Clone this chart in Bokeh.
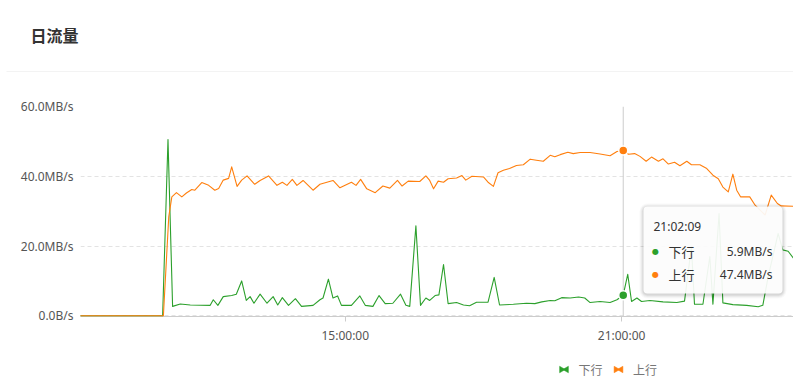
import math
import pandas as pd
from bokeh.plotting import figure
from bokeh.layouts import column
from bokeh.models import (FixedTicker, DatetimeTickFormatter, Label, BoxAnnotation, Span,
                          ColumnDataSource)
from bokeh.embed import file_html
from bokeh.resources import INLINE

# ---------------- data ----------------
title_text = "日流量"
series_names = ["下行", "上行"]
series_colors = ["#2ca02c", "#ff7f0e"]

down_times = ["09:15", "11:02", "11:09", "11:15", "11:25", "11:38", "12:04", "12:08", "12:14",
              "12:21", "12:32", "12:38", "12:45", "12:51", "12:56", "13:01", "13:09", "13:18",
              "13:26", "13:32", "13:38", "13:46", "13:55", "14:03", "14:18", "14:27", "14:31",
              "14:38", "14:44", "14:50", "14:55", "15:08", "15:19", "15:26", "15:36", "15:44",
              "15:52", "16:02", "16:12", "16:19", "16:24", "16:32", "16:38", "16:45", "16:50",
              "16:57", "17:02", "17:08", "17:14", "17:25", "17:34", "17:42", "17:51", "18:06",
              "18:14", "18:21", "18:39", "18:56", "19:07", "19:16", "19:27", "19:33", "19:42",
              "19:53", "20:04", "20:12", "20:19", "20:32", "20:45", "20:54", "21:02:09", "21:08",
              "21:13", "21:20", "21:26", "21:37", "21:54", "22:12", "22:22", "22:31", "22:35",
              "22:46", "22:55", "22:59", "23:07", "23:12", "23:25", "23:43", "23:58", "00:04",
              "00:11", "00:24", "00:30", "00:37", "00:44"]
down_values = [0, 0, 50.5, 2.7, 3.4, 3.1, 3.0, 4.6, 3.0,
               5.5, 5.8, 6.2, 10.0, 4.4, 5.5, 3.6, 6.2, 3.6,
               5.5, 3.1, 5.2, 3.0, 4.9, 2.7, 3.0, 4.6, 5.1,
               10.5, 5.1, 5.7, 3.0, 3.0, 5.7, 3.0, 2.7, 5.8,
               3.5, 3.6, 6.2, 3.0, 2.7, 25.8, 3.0, 5.1, 4.4,
               5.8, 6.0, 14.7, 3.5, 3.8, 3.1, 2.9, 3.9, 3.9,
               11.0, 3.1, 3.3, 3.6, 3.5, 4.0, 4.4, 4.3, 5.2,
               5.1, 5.4, 5.1, 3.8, 4.1, 3.8, 4.6, 5.9, 11.9,
               4.1, 5.1, 4.1, 4.4, 4.0, 3.8, 4.2, 19.8, 3.3,
               3.3, 17.0, 3.3, 29.3, 3.7, 3.2, 3.0, 2.6, 3.0,
               11.2, 23.6, 18.9, 18.5, 16.5]

up_times = ["09:15", "11:03", "11:10", "11:14", "11:20", "11:27", "11:33", "11:40", "11:44",
            "11:53", "12:02", "12:10", "12:15", "12:21", "12:28", "12:32", "12:39", "12:45",
            "12:52", "13:02", "13:09", "13:20", "13:31", "13:38", "13:44", "13:51", "13:57",
            "14:05", "14:18", "14:27", "14:44", "14:53", "15:08", "15:14", "15:20", "15:28",
            "15:39", "15:49", "15:58", "16:08", "16:14", "16:22", "16:37", "16:45", "16:50",
            "16:55", "17:01", "17:08", "17:14", "17:25", "17:32", "17:37", "17:45", "18:00",
            "18:06", "18:13", "18:19", "18:26", "18:34", "18:43", "18:52", "19:01", "19:09",
            "19:18", "19:27", "19:33", "19:40", "19:50", "19:57", "20:06", "20:19", "20:32",
            "20:45", "20:54", "21:02:09", "21:09", "21:17", "21:24", "21:32", "21:39", "21:48",
            "21:54", "22:01", "22:09", "22:16", "22:25", "22:31", "22:42", "22:51", "22:59",
            "23:06", "23:12", "23:19", "23:25", "23:30", "23:35", "23:47", "23:54", "00:07",
            "00:15", "00:23", "00:28", "00:44"]
up_values = [0, 0, 28.4, 34.1, 35.3, 34.1, 35.2, 36.2, 36.0,
             38.2, 37.4, 36.0, 36.5, 38.9, 39.4, 42.7, 37.1, 38.9,
             40.1, 37.7, 38.8, 40.1, 37.4, 38.3, 37.4, 39.1, 37.4,
             38.8, 36.0, 37.7, 38.8, 36.7, 38.3, 37.4, 39.1, 36.4,
             35.3, 37.2, 36.6, 38.8, 37.2, 38.6, 38.5, 40.1, 38.8,
             36.4, 38.6, 38.3, 39.3, 39.5, 40.2, 38.9, 40.0, 39.8,
             38.3, 37.1, 41.0, 41.7, 42.2, 43.1, 43.3, 44.9, 44.6,
             44.3, 46.0, 45.6, 46.2, 46.9, 46.5, 46.8, 46.8, 46.4,
             45.9, 47.1, 47.4, 46.3, 46.5, 45.7, 44.3, 45.5, 44.3,
             45.0, 43.5, 44.0, 43.0, 44.3, 43.3, 43.3, 42.2, 40.3,
             39.3, 36.9, 35.5, 40.6, 36.0, 34.1, 34.1, 31.7, 28.9,
             34.6, 32.2, 31.5, 31.4]

y_ticks = [0, 20, 40, 60]
y_tick_labels = ["0.0B/s", "20.0MB/s", "40.0MB/s", "60.0MB/s"]
x_tick_times = ["15:00", "21:00"]
x_start, x_end = "09:15", "00:44"
hover_time = "21:02:09"

# ---------------- helpers ----------------
BASE = pd.Timestamp("2024-05-20")


def to_dt(s):
    parts = [int(q) for q in s.split(":")]
    h, m = parts[0], parts[1]
    sec = parts[2] if len(parts) > 2 else 0
    t = BASE + pd.Timedelta(hours=h, minutes=m, seconds=sec)
    if h < 6:
        t += pd.Timedelta(days=1)
    return t


def ms(s):
    return to_dt(s).value / 1e6


FONT = "Noto Sans"
CJK = "Noto Sans CJK SC"
W = 793

# ---------------- header (title + separator) ----------------
HEAD_H = 72
head = figure(width=W, height=HEAD_H, x_range=(0, W), y_range=(0, HEAD_H),
              output_backend="svg", toolbar_location=None, x_axis_location=None,
              y_axis_location=None, min_border=0, frame_align=False)
head.outline_line_color = None
head.grid.visible = False
head.add_layout(Label(x=30, y=HEAD_H - 34.5, text=title_text, text_font=CJK,
                      text_font_style="bold", text_font_size="16px", text_color="#333333",
                      text_baseline="middle"))
head.segment(x0=[6], y0=[HEAD_H - 71.5], x1=[W], y1=[HEAD_H - 71.5], line_color="#e6e6e6",
             line_width=1)

# ---------------- main chart ----------------
MAIN_TOP, MAIN_H = HEAD_H, 278
FRAME_LEFT, FRAME_TOP, FRAME_BOTTOM = 80, 106, 316


def sx(px):
    return px - FRAME_LEFT


def sy(py):
    return FRAME_BOTTOM - py


p = figure(width=W, height=MAIN_H, x_axis_type="datetime", output_backend="svg",
           toolbar_location=None, x_range=(to_dt(x_start), to_dt(x_end)), y_range=(-0.2, 60),
           min_border_left=FRAME_LEFT, min_border_right=0,
           min_border_top=FRAME_TOP - MAIN_TOP,
           min_border_bottom=MAIN_TOP + MAIN_H - FRAME_BOTTOM, frame_align=False)
p.outline_line_color = None
p.background_fill_color = "white"
p.border_fill_color = "white"

p.yaxis.ticker = FixedTicker(ticks=y_ticks)
p.yaxis.major_label_overrides = {t: l for t, l in zip(y_ticks, y_tick_labels)}
p.yaxis.axis_line_color = None
p.yaxis.major_tick_line_color = None
p.yaxis.minor_tick_line_color = None
p.yaxis.major_tick_out = 0
p.yaxis.major_tick_in = 0
p.yaxis.major_label_standoff = 7
p.yaxis.major_label_text_font = FONT
p.yaxis.major_label_text_font_size = "12px"
p.yaxis.major_label_text_color = "#555555"

p.xaxis.ticker = FixedTicker(ticks=[ms(t) for t in x_tick_times])
fmt = "%H:%M:%S"
p.xaxis.formatter = DatetimeTickFormatter(microseconds=fmt, milliseconds=fmt, seconds=fmt,
                                          minsec=fmt, minutes=fmt, hourmin=fmt, hours=fmt,
                                          days=fmt, months=fmt, years=fmt)
p.xaxis.axis_line_color = "#cccccc"
p.xaxis.major_tick_line_color = "#cccccc"
p.xaxis.minor_tick_line_color = None
p.xaxis.major_tick_in = 0
p.xaxis.major_tick_out = 5
p.xaxis.major_label_standoff = 5
p.xaxis.major_label_text_font = FONT
p.xaxis.major_label_text_font_size = "12px"
p.xaxis.major_label_text_color = "#555555"

p.xgrid.visible = False
p.ygrid.grid_line_color = "#e3e3e3"
p.ygrid.grid_line_dash = "4 3"

# crosshair
p.add_layout(Span(location=ms(hover_time), dimension="height", line_color="#cccccc",
                  line_width=1, level="underlay"))

# series lines (drawn above the axis line)
series = [(down_times, down_values), (up_times, up_values)]
for (times, vals), color in zip(series, series_colors):
    src = ColumnDataSource(dict(t=[to_dt(t) for t in times], v=vals))
    r = p.line("t", "v", source=src, line_color=color, line_width=1.1, line_join="round")
    r.level = "annotation"

# hover dots
hover_vals = [vals[times.index(hover_time)] for times, vals in series]
for v, color in zip(hover_vals, series_colors):
    r = p.scatter([to_dt(hover_time)], [v], size=9, fill_color=color, line_color="white",
                  line_width=1.5)
    r.level = "annotation"

# tooltip box
TL, TR, TT, TB = 643, 782, 206, 293
for g, a in [(4, 0.025), (3, 0.035), (2, 0.045), (1, 0.06)]:
    p.add_layout(BoxAnnotation(left=sx(TL - g), right=sx(TR + g), top=sy(TT - g + 1),
                               bottom=sy(TB + g + 1),
                               left_units="screen", right_units="screen", top_units="screen",
                               bottom_units="screen", fill_color="#000000", fill_alpha=a,
                               line_color=None, border_radius=4 + g))
p.add_layout(BoxAnnotation(left=sx(TL), right=sx(TR), top=sy(TT), bottom=sy(TB),
                           left_units="screen", right_units="screen", top_units="screen",
                           bottom_units="screen", fill_color="white", fill_alpha=0.92,
                           line_color=None, border_radius=4))
p.add_layout(Label(x=sx(653), y=sy(226), x_units="screen", y_units="screen", text=hover_time,
                   text_font=FONT, text_font_size="12px", text_color="#333333",
                   text_baseline="middle"))
for i, (name, v, color) in enumerate(zip(series_names, hover_vals, series_colors)):
    yy = 251 + 23 * i
    p.add_layout(Label(x=sx(655), y=sy(yy), x_units="screen", y_units="screen", text="●",
                       text_font="DejaVu Sans", text_font_size="8px", text_color=color,
                       text_baseline="middle", text_align="center"))
    p.add_layout(Label(x=sx(668), y=sy(yy), x_units="screen", y_units="screen", text=name,
                       text_font=CJK, text_font_size="13px", text_color="#333333",
                       text_baseline="middle"))
    p.add_layout(Label(x=sx(772), y=sy(yy), x_units="screen", y_units="screen",
                       text=f"{v:.1f}MB/s", text_font=FONT, text_font_size="12px",
                       text_color="#333333", text_baseline="middle", text_align="right"))

# ---------------- footer legend ----------------
FOOT_TOP = MAIN_TOP + MAIN_H
FOOT_H = 388 - FOOT_TOP
foot = figure(width=W, height=FOOT_H, x_range=(0, W), y_range=(0, FOOT_H),
              output_backend="svg", toolbar_location=None, x_axis_location=None,
              y_axis_location=None, min_border=0, frame_align=False)
foot.outline_line_color = None
foot.grid.visible = False
LEG_Y = FOOT_TOP + FOOT_H - 369
for i, (name, color) in enumerate(zip(series_names, series_colors)):
    x0 = 563.5 + 54.5 * i
    foot.scatter([x0 - 2.5], [LEG_Y], marker="triangle", angle=-math.pi / 2, size=6.5,
                 fill_color=color, line_color=color, line_width=0.5)
    foot.scatter([x0 + 2.5], [LEG_Y], marker="triangle", angle=math.pi / 2, size=6.5,
                 fill_color=color, line_color=color, line_width=0.5)
    foot.add_layout(Label(x=x0 + 14.5, y=LEG_Y, text=name, text_font=CJK,
                          text_font_size="12px", text_color="#777777",
                          text_baseline="middle"))

layout = column(head, p, foot, spacing=0)
open("out.html", "w").write(file_html(layout, INLINE))
